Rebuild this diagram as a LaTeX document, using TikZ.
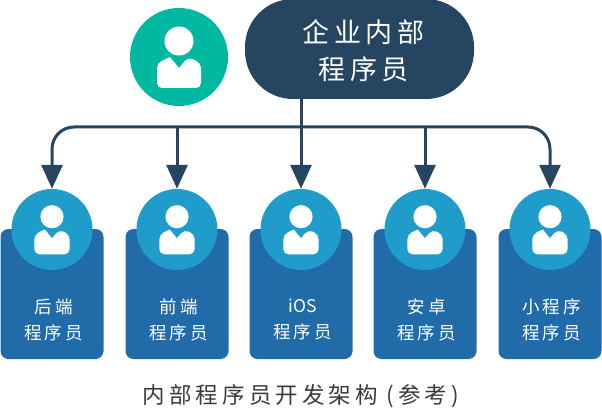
\documentclass[tikz,border=0pt]{standalone}
\usepackage{fontspec}
\usepackage{xcolor}
\usepackage{tikz}
\usetikzlibrary{arrows.meta}
\setmainfont{Noto Sans CJK SC}[LetterSpace=18]

\definecolor{leadblue}{HTML}{264560}
\definecolor{avatargreen}{HTML}{00B8A0}
\definecolor{avatarblue}{HTML}{209CCB}
\definecolor{cardblue}{HTML}{216BA9}
\definecolor{captiongray}{HTML}{3A3A3A}

\begin{document}
\begin{tikzpicture}[
        x=1pt, y=-1pt,
        lead/.style={rectangle, fill=leadblue, rounded corners=48pt, minimum width=229pt, minimum height=100pt, inner sep=0pt},
        leadtext/.style={text=white, align=center, font=\fontsize{27}{37}\selectfont},
        card/.style={rectangle, fill=cardblue, rounded corners=8pt, minimum width=103pt, minimum height=130pt, inner sep=0pt},
        avatar/.style={circle, fill=avatarblue, inner sep=0pt, minimum size=81pt},
        cardtext/.style={text=white, align=center, font=\fontsize{17.5}{26}\selectfont},
        link/.style={line width=3pt, leadblue, -{Triangle[length=24pt,width=21pt]}},
        pics/person/.style={code={
            \fill[white] (0,-16) circle (14.5);
            \fill[white, rounded corners=5pt] (-9,0) -- (-22,6) -- (-22,31) -- (22,31) -- (22,6) -- (9,0) [sharp corners] -- (0,11) -- cycle;
        }},
    ]
    \useasboundingbox (0,0) rectangle (602,409);

    % Head of the group
    \node[lead] (lead) at (359.5,49) {};
    \node[leadtext] (leadlabel) at (363.5,51) {企业内部\\程序员};
    \node[avatar, fill=avatargreen, minimum size=98pt] (boss) at (179,57) {};
    \pic at (boss) {person};

    % Teams
    \foreach \i/\xpos/\lbl in {1/52/后端, 2/177/前端, 3/301/{\addfontfeature{LetterSpace=0}iOS}, 4/425/安卓, 5/550/小程序} {
        \node[card] (card\i) at (\xpos,294) {};
        \node[avatar] (av\i) at (\xpos,229.5) {};
        \pic[scale=0.8] at (av\i) {person};
        \node[cardtext] (text\i) at (\xpos+1.5,319.5) {\lbl\\程序员};
    }

    % Connectors
    \coordinate (bus) at (301,127);
    \draw[link] (av3.north |- lead.south) -- (av3.north);
    \draw[link, rounded corners=22pt] (bus) -| (av1.north);
    \draw[link, rounded corners=22pt] (bus) -| (av5.north);
    \draw[link] (av2.north |- bus) -- (av2.north);
    \draw[link] (av4.north |- bus) -- (av4.north);

    % Caption
    \node[text=captiongray, font=\fontsize{22.5}{26}\selectfont] (caption) at (301,396) {内部程序员开发架构 (参考)};
\end{tikzpicture}
\end{document}
